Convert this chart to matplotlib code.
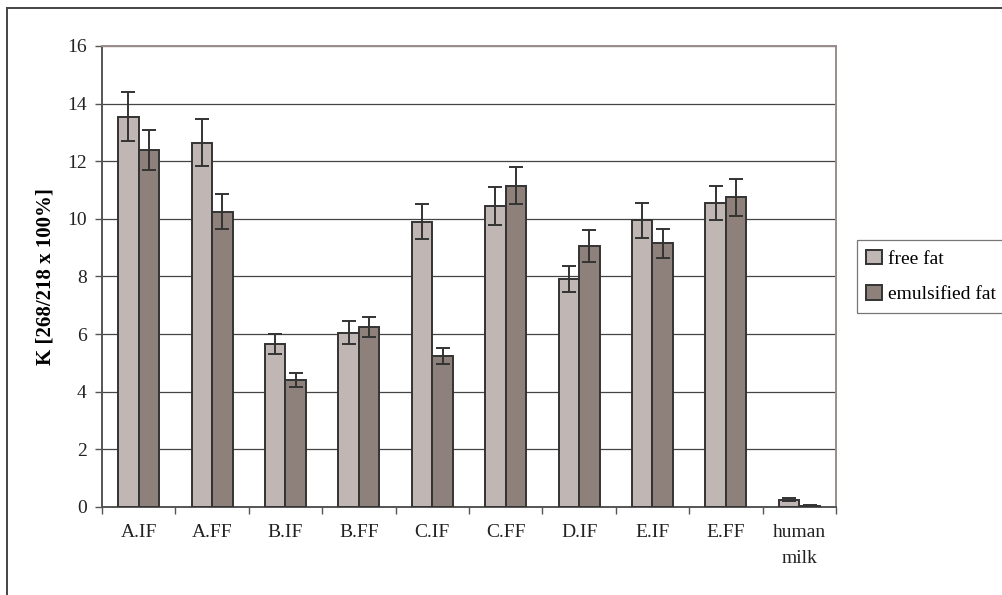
import numpy as np
import matplotlib
matplotlib.use('Agg')
import matplotlib.pyplot as plt
from matplotlib.lines import Line2D

FREE_COLOR = '#c0b6b3'
EMUL_COLOR = '#8e807b'
EDGE_COLOR = '#333333'

categories = ['A.IF', 'A.FF', 'B.IF', 'B.FF', 'C.IF', 'C.FF', 'D.IF', 'E.IF', 'E.FF', 'human\nmilk']
free_fat = [13.55, 12.65, 5.65, 6.05, 9.9, 10.45, 7.9, 9.95, 10.55, 0.25]
free_err = [0.85, 0.8, 0.35, 0.4, 0.6, 0.65, 0.45, 0.6, 0.6, 0.05]
emulsified_fat = [12.4, 10.25, 4.4, 6.25, 5.25, 11.15, 9.05, 9.15, 10.75, 0.05]
emulsified_err = [0.7, 0.6, 0.25, 0.35, 0.27, 0.65, 0.55, 0.5, 0.65, 0.02]


def main():
    plt.rcParams['font.family'] = ['Liberation Serif', 'DejaVu Serif']
    fig = plt.figure(figsize=(10.02, 5.95), dpi=100)
    ax = fig.add_axes([0.1018, 0.1479, 0.7325, 0.7748])

    x = np.arange(len(categories))
    w = 0.28
    err_kw = dict(ecolor=EDGE_COLOR, elinewidth=1.4, capsize=5, capthick=1.4)
    ax.bar(x - w / 2, free_fat, w, color=FREE_COLOR, edgecolor=EDGE_COLOR,
           linewidth=1.4, yerr=free_err, error_kw=err_kw, label='free fat', zorder=3)
    ax.bar(x + w / 2, emulsified_fat, w, color=EMUL_COLOR, edgecolor=EDGE_COLOR,
           linewidth=1.4, yerr=emulsified_err, error_kw=err_kw, label='emulsified fat', zorder=3)

    ax.set_xlim(-0.5, len(categories) - 0.5)
    ax.set_ylim(0, 16)
    ax.set_yticks(range(0, 17, 2))
    ax.yaxis.grid(True, color='#444444', linewidth=0.9, zorder=0)
    ax.set_axisbelow(True)

    # category labels centred, tick marks at the group boundaries
    ax.set_xticks(x)
    ax.set_xticklabels(categories, fontsize=14)
    ax.tick_params(axis='x', length=0, pad=12)
    ax.set_xticks(np.arange(-0.5, len(categories)), minor=True)
    ax.tick_params(axis='x', which='minor', length=5, width=1, color='#555555')
    ax.tick_params(axis='y', labelsize=14, length=5, width=1, color='#555555', pad=6,
                   labelcolor='#222222')
    for lab in ax.get_xticklabels():
        lab.set_color('#222222')
        lab.set_linespacing(1.75)

    ax.set_ylabel('K [268/218 x 100%]', fontsize=15, fontweight='bold')
    ax.yaxis.set_label_coords(-0.064, 0.5)

    ax.spines['left'].set_color('#555555')
    ax.spines['bottom'].set_color('#555555')
    ax.spines['top'].set_color('#9a8c8a')
    ax.spines['right'].set_color('#9a8c8a')
    for s in ax.spines.values():
        s.set_linewidth(1.4)

    leg = ax.legend(loc='center left', bbox_to_anchor=(1.028, 0.5), fontsize=14,
                    frameon=True, fancybox=False, edgecolor='#555555',
                    handlelength=0.8, handleheight=0.8, handletextpad=0.3,
                    labelspacing=0.9, borderpad=0.5, borderaxespad=0)
    leg.get_frame().set_linewidth(0.9)

    # outer frame (left and top edges)
    fig.add_artist(Line2D([0.0065, 0.0065], [0.0, 0.986], transform=fig.transFigure,
                          color='#444444', linewidth=1.4))
    fig.add_artist(Line2D([0.0065, 1.0], [0.986, 0.986], transform=fig.transFigure,
                          color='#444444', linewidth=1.4))

    fig.savefig('out.png', dpi=100)


if __name__ == '__main__':
    main()
